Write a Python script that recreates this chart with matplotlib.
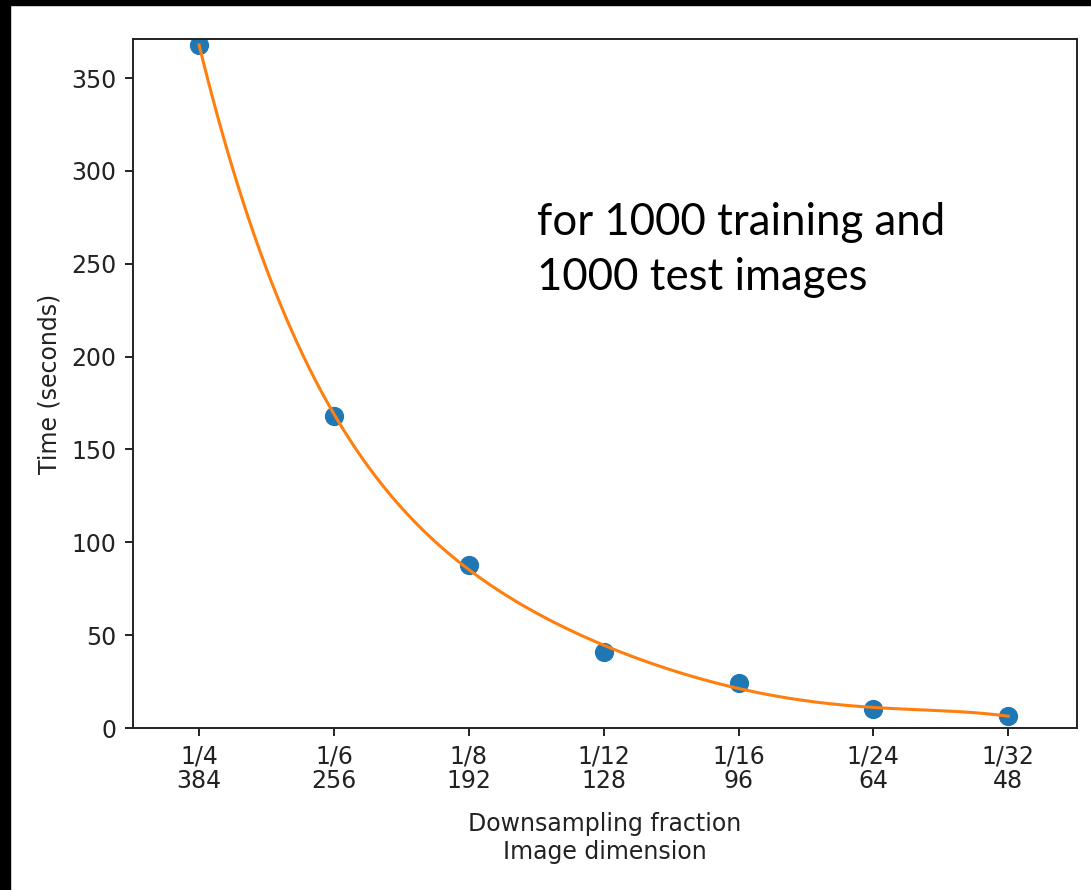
import numpy as np
import matplotlib
matplotlib.use("Agg")
import matplotlib.pyplot as plt
from matplotlib.patches import Rectangle

fractions = ["1/4", "1/6", "1/8", "1/12", "1/16", "1/24", "1/32"]
dimensions = ["384", "256", "192", "128", "96", "64", "48"]
times = [368, 168, 88, 41, 24, 10, 6.5]
yticks = [0, 50, 100, 150, 200, 250, 300, 350]
note = "for 1000 training and\n1000 test images"

W, H = 1091, 890
fs = 17
fig = plt.figure(figsize=(W / 100, H / 100), dpi=100)
ax = fig.add_axes([133 / W, 1 - 728 / H, (1077 - 133) / W, (728 - 39) / H])

x = np.arange(len(times))
coef = np.polyfit(x, times, 5)
xs = np.linspace(0, len(times) - 1, 400)
ax.scatter(x, times, s=165, color="#1f77b4", zorder=2)
ax.plot(xs, np.polyval(coef, xs), color="#ff7f0e", lw=2.2, zorder=3)

ax.set_xlim(-0.49, 6.51)
ax.set_ylim(0, 371)
ax.set_xticks(x)
ax.set_xticklabels([f"{f}\n{d}" for f, d in zip(fractions, dimensions)],
                   fontsize=fs, linespacing=1.0)
ax.set_yticks(yticks)
ax.tick_params(labelsize=fs, width=1.4, length=6, pad=6, colors="#222222")
for s in ax.spines.values():
    s.set_linewidth(1.4)
    s.set_color("#222222")
ax.set_xlabel("Downsampling fraction\nImage dimension", fontsize=fs,
              linespacing=1.18, labelpad=14, color="#222222")
ax.set_ylabel("Time (seconds)", fontsize=fs, labelpad=7, color="#222222")

fig.text(537 / W, 1 - 202 / H, note, fontsize=31.5, family="Lato",
         va="top", ha="left", linespacing=1.43)

fig.patches.append(Rectangle((0, 0), 10 / W, 1, transform=fig.transFigure,
                             color="black", zorder=10))
fig.patches.append(Rectangle((0, 1 - 5 / H), 1, 5 / H, transform=fig.transFigure,
                             color="black", zorder=10))

fig.savefig("out.png", dpi=100)
